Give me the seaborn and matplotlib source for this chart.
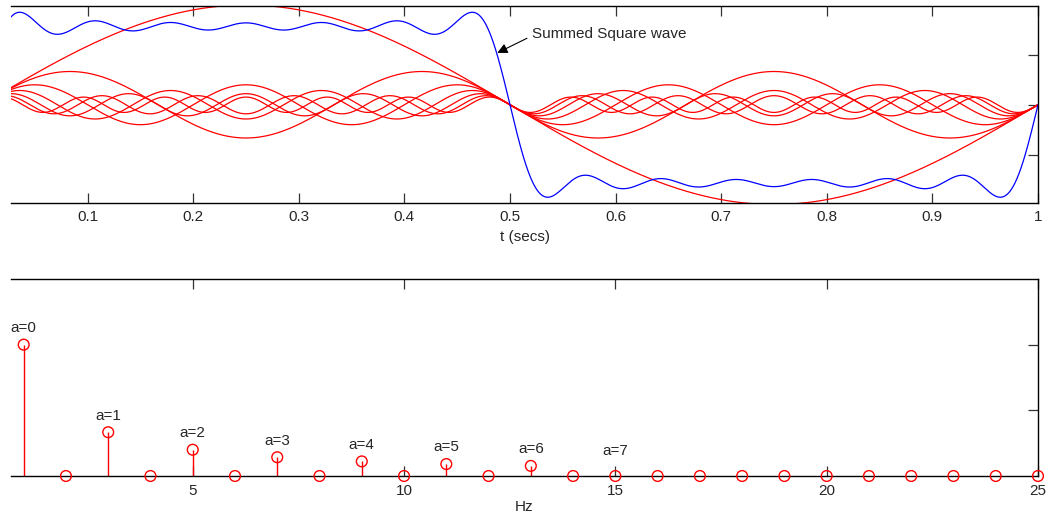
import numpy as np
import pandas as pd
import matplotlib
matplotlib.use("Agg")
import matplotlib.pyplot as plt
import seaborn as sns

# ---- data ----
harmonic_freqs = [1, 3, 5, 7, 9, 11, 13]                 # Hz of the summed terms
harmonic_amps = [1, 1/3, 1/5, 1/7, 1/9, 1/11, 1/13]      # stem heights
spectrum_hz = list(range(1, 26))
spectrum_amp = [1, 0, 1/3, 0, 1/5, 0, 1/7, 0, 1/9, 0, 1/11, 0, 1/13,
                0, 0, 0, 0, 0, 0, 0, 0, 0, 0, 0, 0]
label_hz = [1, 3, 5, 7, 9, 11, 13, 15]
label_amp = [1, 1/3, 1/5, 1/7, 1/9, 1/11, 1/13, 1/15]
label_text = ["a=0", "a=1", "a=2", "a=3", "a=4", "a=5", "a=6", "a=7"]
top_xticks = [0.1, 0.2, 0.3, 0.4, 0.5, 0.6, 0.7, 0.8, 0.9, 1.0]
top_xticklabels = ["0.1", "0.2", "0.3", "0.4", "0.5", "0.6", "0.7", "0.8", "0.9", "1"]
bot_xticks = [5, 10, 15, 20, 25]

sns.set_style("ticks")
plt.rcParams["font.family"] = ["Liberation Sans", "DejaVu Sans"]
plt.rcParams["font.size"] = 11

t = np.linspace(0.0275, 1.0, 3000)
rows = []
for f, a in zip(harmonic_freqs, harmonic_amps):
    rows.append(pd.DataFrame({"t": t, "v": a * np.sin(2 * np.pi * f * t), "h": f}))
df = pd.concat(rows, ignore_index=True)
summed = df.groupby("t", as_index=False)["v"].sum()

fig = plt.figure(figsize=(10.54, 5.19), dpi=100)
W, H = 1054, 519
ax1 = fig.add_axes([11 / W, (H - 203) / H, (1038 - 11) / W, (203 - 6) / H])
ax2 = fig.add_axes([11 / W, (H - 476) / H, (1038 - 11) / W, (476 - 279) / H])

# top panel
sns.lineplot(data=df, x="t", y="v", units="h", estimator=None, color="red",
             linewidth=0.9, ax=ax1, legend=False)
sns.lineplot(data=summed, x="t", y="v", color="blue", linewidth=0.9, ax=ax1)
ax1.set_xlim(0.0275, 1.0)
ax1.set_ylim(-0.985, 0.99)
ax1.set_xticks(top_xticks)
ax1.set_xticklabels(top_xticklabels)
ax1.set_yticks([-0.5, 0, 0.5])
ax1.set_xlabel("t (secs)", labelpad=4)
ax1.set_ylabel("")
ax1.annotate("Summed Square wave", xy=(0.488, 0.52), xytext=(0.5204, 0.71),
             va="center", ha="left", fontsize=11,
             arrowprops=dict(arrowstyle="-|>", color="black", lw=0.8,
                             mutation_scale=15, shrinkA=1, shrinkB=0,
                             relpos=(0.0, 0.35)))

# bottom panel
ax2.vlines(spectrum_hz, 0, spectrum_amp, color="red", linewidth=1.0, zorder=2)
sns.scatterplot(x=spectrum_hz, y=spectrum_amp, ax=ax2, marker="o", s=60,
                facecolors="none", edgecolor="red", linewidth=1.0, zorder=3,
                clip_on=False)
for hz, amp, txt in zip(label_hz, label_amp, label_text):
    ax2.annotate(txt, xy=(hz, amp), xytext=(0, 7), textcoords="offset points",
                 ha="center", va="bottom", fontsize=11)
ax2.set_xlim(0.7, 25)
ax2.set_ylim(0, 1.5)
ax2.set_xticks(bot_xticks)
ax2.set_yticks([0.5, 1.0])
ax2.set_xlabel("Hz", labelpad=1)
ax2.set_ylabel("")

for ax in (ax1, ax2):
    ax.spines["left"].set_visible(False)
    for s in ("top", "right", "bottom"):
        ax.spines[s].set_visible(True)
        ax.spines[s].set_linewidth(1.0)
        ax.spines[s].set_color("black")
    ax.tick_params(axis="x", direction="in", top=True, bottom=True, length=7,
                   width=0.9, color="#333333", labelsize=11, pad=5)
    ax.tick_params(axis="y", direction="in", left=False, right=True, length=7,
                   width=0.9, color="#333333", labelleft=False, labelright=False)
ax2.tick_params(axis="x", pad=6)

fig.savefig("out.png", dpi=100)
